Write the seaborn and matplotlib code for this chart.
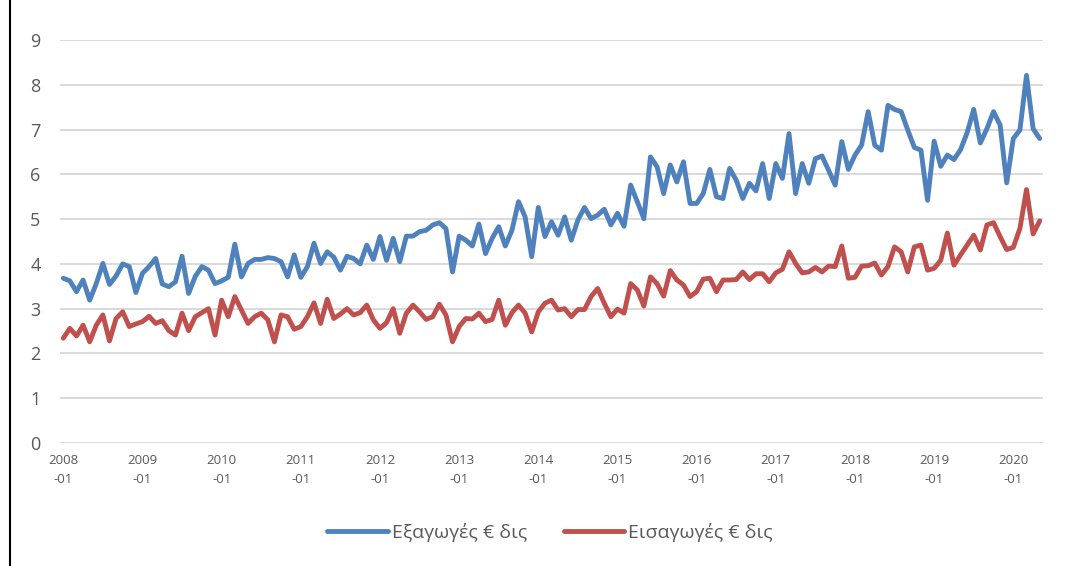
import numpy as np
import pandas as pd
import matplotlib.pyplot as plt
import seaborn as sns

# monthly values, 2008-01 .. 2020-05 (billion euro)
months = pd.period_range("2008-01", "2020-05", freq="M").strftime("%Y-%m").tolist()

exports = [
    3.68, 3.62, 3.38, 3.64, 3.19, 3.56, 4.01, 3.54, 3.73, 4.00, 3.94, 3.36,
    3.79, 3.94, 4.12, 3.55, 3.49, 3.60, 4.17, 3.34, 3.72, 3.94, 3.86, 3.56,
    3.62, 3.70, 4.44, 3.71, 4.01, 4.10, 4.10, 4.14, 4.12, 4.05, 3.71, 4.20,
    3.70, 3.94, 4.46, 4.01, 4.27, 4.15, 3.86, 4.17, 4.12, 4.00, 4.42, 4.10,
    4.61, 4.08, 4.57, 4.05, 4.62, 4.62, 4.72, 4.75, 4.87, 4.92, 4.79, 3.82,
    4.62, 4.53, 4.40, 4.89, 4.23, 4.57, 4.83, 4.40, 4.75, 5.39, 5.05, 4.16,
    5.26, 4.61, 4.94, 4.64, 5.05, 4.53, 4.98, 5.26, 5.01, 5.09, 5.22, 4.87,
    5.13, 4.84, 5.76, 5.39, 5.01, 6.39, 6.17, 5.57, 6.21, 5.83, 6.28, 5.35,
    5.35, 5.57, 6.11, 5.50, 5.46, 6.13, 5.87, 5.46, 5.80, 5.63, 6.24, 5.46,
    6.24, 5.91, 6.91, 5.57, 6.24, 5.80, 6.35, 6.41, 6.09, 5.76, 6.73, 6.11,
    6.43, 6.65, 7.40, 6.65, 6.54, 7.54, 7.45, 7.40, 6.99, 6.60, 6.54, 5.42,
    6.74, 6.18, 6.43, 6.33, 6.55, 6.93, 7.45, 6.70, 7.02, 7.40, 7.10, 5.81,
    6.80, 6.99, 8.21, 7.02, 6.80,
]

imports = [
    2.34, 2.56, 2.39, 2.63, 2.26, 2.63, 2.86, 2.28, 2.78, 2.93, 2.60, 2.66,
    2.71, 2.83, 2.67, 2.73, 2.51, 2.41, 2.90, 2.51, 2.82, 2.91, 3.00, 2.41,
    3.19, 2.82, 3.27, 2.97, 2.67, 2.82, 2.90, 2.75, 2.26, 2.86, 2.82, 2.54,
    2.60, 2.82, 3.13, 2.67, 3.21, 2.78, 2.88, 3.00, 2.86, 2.91, 3.08, 2.75,
    2.56, 2.69, 3.00, 2.45, 2.90, 3.08, 2.93, 2.76, 2.82, 3.10, 2.86, 2.26,
    2.60, 2.78, 2.77, 2.90, 2.71, 2.76, 3.19, 2.63, 2.91, 3.08, 2.90, 2.48,
    2.93, 3.12, 3.19, 2.97, 3.00, 2.82, 2.98, 2.98, 3.27, 3.45, 3.12, 2.82,
    2.99, 2.90, 3.56, 3.42, 3.06, 3.71, 3.56, 3.28, 3.85, 3.64, 3.53, 3.27,
    3.38, 3.66, 3.68, 3.38, 3.64, 3.64, 3.65, 3.82, 3.65, 3.78, 3.78, 3.60,
    3.80, 3.88, 4.27, 4.01, 3.80, 3.82, 3.92, 3.82, 3.95, 3.94, 4.40, 3.68,
    3.70, 3.95, 3.96, 4.02, 3.75, 3.94, 4.38, 4.27, 3.82, 4.38, 4.42, 3.86,
    3.90, 4.08, 4.69, 3.97, 4.20, 4.42, 4.64, 4.31, 4.87, 4.92, 4.61, 4.32,
    4.37, 4.79, 5.66, 4.67, 4.96,
]

series_names = ["Εξαγωγές € δις", "Εισαγωγές € δις"]
colors = ["#4F81BD", "#C0504D"]

df = pd.DataFrame({"month": months, series_names[0]: exports, series_names[1]: imports})
df["pos"] = np.arange(len(df))
long_df = df.melt(id_vars=["month", "pos"], var_name="series", value_name="value")

sns.set_theme(style="white")
plt.rcParams["font.family"] = ["Open Sans", "DejaVu Sans"]

fig = plt.figure(figsize=(10.7, 5.66), dpi=100)
ax = fig.add_axes([60 / 1070, 1 - 443 / 566, 983 / 1070, 403 / 566])

sns.lineplot(data=long_df, x="pos", y="value", hue="series",
             palette=dict(zip(series_names, colors)), linewidth=3.5,
             legend=False, ax=ax)

ax.set_xlim(-0.5, len(df) - 0.5)
ax.set_ylim(0, 9)
ax.set_yticks(range(0, 10))
tick_pos = list(range(0, len(df), 12))
ax.set_xticks(tick_pos)
ax.set_xticklabels([months[i][:4] + "\n-" + months[i][5:] for i in tick_pos],
                   fontsize=9.5, color="#595959", linespacing=1.6)
ax.tick_params(axis="y", labelsize=13, labelcolor="#595959", pad=14, length=0)
ax.tick_params(axis="x", pad=8, length=0)
ax.set_xlabel("")
ax.set_ylabel("")
ax.yaxis.grid(True, color="#D9D9D9", linewidth=1.4)
ax.set_axisbelow(True)
for s in ax.spines.values():
    s.set_visible(False)

handles = [plt.Line2D([], [], color=c, linewidth=3.5) for c in colors]
fig.legend(handles, series_names, loc="center", bbox_to_anchor=(0.514, 1 - 532 / 566),
           ncol=2, frameon=False, fontsize=14, handlelength=3.1,
           handletextpad=0.2, columnspacing=1.9, labelcolor="#595959")

# outer frame line on the left, as in the source image
fig.add_artist(plt.Line2D([10 / 1070, 10 / 1070], [0, 1], color="black", linewidth=1.5))

fig.savefig("out.png", dpi=100)
